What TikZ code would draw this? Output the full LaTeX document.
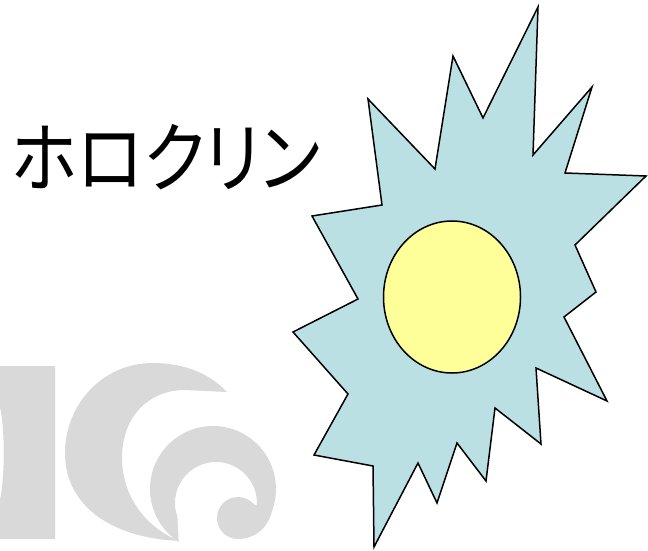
\documentclass[tikz,border=0pt]{standalone}
\usepackage{fontspec}
\usepackage{tikz}
\usetikzlibrary{shapes.geometric}
\newfontfamily\jpfont[RawFeature=+palt]{Noto Sans CJK JP}
\definecolor{burstblue}{RGB}{187,224,227}
\definecolor{coreyellow}{RGB}{255,255,153}
\definecolor{logogray}{RGB}{217,217,217}

\begin{document}
\begin{tikzpicture}[x=1pt, y=1pt,
    outline/.style={draw=black, line width=1.5pt, line join=miter},
    logo/.style={fill=logogray}]
    \useasboundingbox (0,0) rectangle (648,550);

    % Grey logo in the lower left
    \fill[logo] (0,184) -- (55,184) -- (55,11) -- (0,11) -- (0,50)
        .. controls (5,75) and (5,120) .. (0,143) -- cycle;
    \fill[logo] (227,158) .. controls (208,178) and (182,187) .. (153,187)
        .. controls (102,187) and (65,145) .. (65,97)
        .. controls (65,45) and (110,12) .. (180,9)
        .. controls (145,22) and (122,55) .. (122,92)
        .. controls (122,135) and (150,160) .. (185,160) -- cycle;
    \fill[logo] (213,61) ++(237:63) arc[start angle=237, end angle=-20, radius=63]
        .. controls (268,22) and (255,11) .. (238,11)
        arc[start angle=-90, end angle=-320, radius=21]
        -- (256.9,44.9) arc[start angle=-3, end angle=200, radius=41]
        -- cycle;

    % Title
    \node[anchor=base west, inner sep=0pt, font=\jpfont\fontsize{77}{88}\selectfont]
        (title) at (12,363) {\scalebox{0.88}[1]{ホロクリン}};

    % Starburst with its core
    \draw[outline, fill=burstblue] (538,543) -- (533,395) -- (592,463) -- (565,377)
        -- (646,374) -- (575,305) -- (596,258) -- (564,233) -- (607,149)
        -- (536,182) -- (541,106) -- (495,142) -- (486,69) -- (457,107)
        -- (437,47) -- (418,87) -- (374,3) -- (373,84) -- (314,95)
        -- (348,156) -- (293,218) -- (358,251) -- (312,334) -- (382,345)
        -- (368,451) -- (435,381) -- (453,494) -- (483,432) -- cycle;
    \node[outline, ellipse, fill=coreyellow, inner sep=0pt,
        minimum width=137, minimum height=152] (core) at (452,253) {};
\end{tikzpicture}
\end{document}
